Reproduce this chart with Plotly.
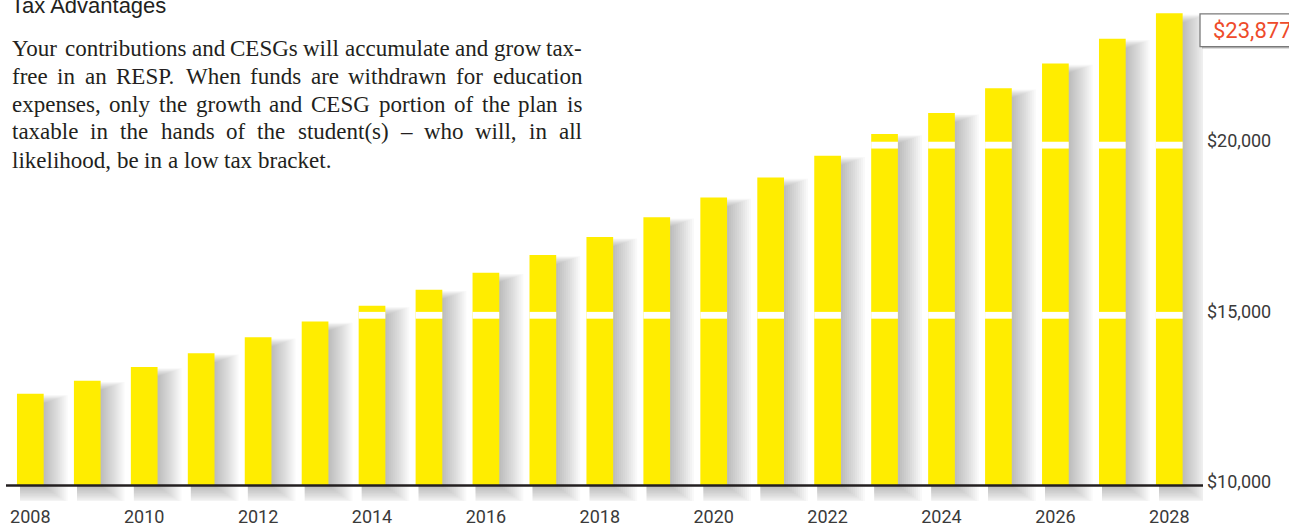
import plotly.graph_objects as go

# ---------------- data ----------------
years = list(range(2008, 2029))
values = [12691, 13079, 13478, 13886, 14353, 14819, 15277, 15752, 16248, 16773,
          17297, 17880, 18464, 19047, 19688, 20329, 20942, 21671, 22399, 23128, 23877]
y_ticks = [10000, 15000, 20000]
y_tick_labels = ["$10,000", "$15,000", "$20,000"]
x_ticks = list(range(2008, 2029, 2))
x_tick_labels = [str(y) for y in x_ticks]
final_label = "$23,877"
title_text = "Tax Advantages"
paragraph_lines = [
    "Your contributions and CESGs will accumulate and grow tax-",
    "free in an RESP. When funds are withdrawn for education",
    "expenses, only the growth and CESG portion of the plan is",
    "taxable in the hands of the student(s) \u2013 who will, in all",
    "likelihood, be in a low tax bracket.",
]

# ---------------- geometry ----------------
W, H = 1289, 527
ML, MR, MT, MB = 6, 86, 0, 22
PW, PH = W - ML - MR, H - MT - MB
base_val = 10000
px_per_unit_y = 0.0343           # pixels per dollar
baseline_px = 489.3
y_top = base_val + (baseline_px - MT) / px_per_unit_y
y_bot = base_val - (MT + PH - baseline_px) / px_per_unit_y
x_lo, x_hi = 2007.573, 2028.592
px_per_year = PW / (x_hi - x_lo)
ux = 1 / px_per_year              # years per pixel
uy = 1 / px_per_unit_y            # dollars per pixel
bar_w = 26.7 * ux


def pxx(x):
    return (x - ML) / PW


def pxy(y):
    return (MT + PH - y) / PH


YELLOW = "#FFED00"
TEXT = "#231f20"
TICK = "#3a3a3a"
SANS = "Roboto, Liberation Sans, Arial, sans-serif"
SERIF = "Liberation Serif, Times New Roman, serif"

fig = go.Figure()

# soft drop shadows, spreading to the right and below (layered translucent bars)
for s in range(0, 24, 2):
    left_px = 3
    right_px = 2 + s
    bases = [base_val - (2 + s * 0.7) * uy for _ in values]
    tops = [v - (9 - s * 0.35) * uy for v in values]
    fig.add_trace(go.Bar(
        x=years, y=[t - b for t, b in zip(tops, bases)], base=bases,
        width=bar_w - left_px * ux + right_px * ux,
        offset=-bar_w / 2 + left_px * ux,
        marker=dict(color="rgba(60,60,75,0.03)", line=dict(width=0)),
        hoverinfo="skip", showlegend=False))

# main bars
fig.add_trace(go.Bar(
    x=years, y=[v - base_val for v in values], base=base_val,
    width=bar_w, offset=-bar_w / 2,
    marker=dict(color=YELLOW, line=dict(width=0)),
    hoverinfo="x+y", showlegend=False))

# white bands at gridline levels across the bars
band = 200
for lvl in y_ticks[1:]:
    xs = [yr for yr, v in zip(years, values) if v > lvl + band / 2]
    fig.add_trace(go.Bar(
        x=xs, y=[band] * len(xs), base=lvl - band / 2,
        width=bar_w, offset=-bar_w / 2,
        marker=dict(color="white", line=dict(width=0)),
        hoverinfo="skip", showlegend=False))

shapes = [
    dict(type="line", xref="paper", yref="y", x0=0, x1=1, y0=base_val, y1=base_val,
         line=dict(color=TEXT, width=2.5), layer="above"),
    # label box shadow + box
    dict(type="rect", xref="paper", yref="paper",
         x0=pxx(1202), x1=pxx(1300), y0=pxy(49), y1=pxy(16),
         fillcolor="rgba(120,120,120,0.5)", line=dict(width=0), layer="above"),
    dict(type="rect", xref="paper", yref="paper",
         x0=pxx(1200), x1=pxx(1300), y0=pxy(47), y1=pxy(14),
         fillcolor="white", line=dict(color="#7a7a7a", width=1.3), layer="above"),
]

annotations = [
    dict(text=title_text, xref="paper", yref="paper", x=pxx(9), y=pxy(15),
         xanchor="left", yanchor="bottom", yshift=-5, showarrow=False,
         font=dict(family="Liberation Sans, Arial, sans-serif", size=22, color=TEXT)),
    dict(text=final_label, xref="paper", yref="paper", x=pxx(1211), y=pxy(30.5),
         xanchor="left", yanchor="middle", showarrow=False,
         font=dict(family=SANS, size=22, color="#EE4B2B")),
]

# justified serif paragraph (Times-metric advance widths, per 1000 em)
TW = {" ": 250, "!": 333, "(": 333, ")": 333, ",": 250, "-": 333, ".": 250, "\u2013": 500,
      "A": 722, "C": 667, "D": 722, "E": 611, "G": 722, "P": 556, "R": 667, "S": 556,
      "W": 944, "Y": 722,
      "a": 444, "b": 500, "c": 444, "d": 500, "e": 444, "f": 333, "g": 500, "h": 500,
      "i": 278, "k": 500, "l": 278, "m": 778, "n": 500, "o": 500, "p": 500, "r": 333,
      "s": 389, "t": 278, "u": 500, "v": 500, "w": 722, "x": 500, "y": 500}
FS = 23
X0, X1 = 10, 580
line_centers = [49, 77, 105, 133, 162]


def word_w(w):
    return sum(TW.get(c, 500) for c in w) / 1000 * FS


for i, (txt, yc) in enumerate(zip(paragraph_lines, line_centers)):
    words = txt.split(" ")
    widths = [word_w(w) for w in words]
    if i < len(paragraph_lines) - 1:
        gap = (X1 - X0 - sum(widths)) / (len(words) - 1)
    else:
        gap = TW[" "] / 1000 * FS
    x = X0
    for w, ww in zip(words, widths):
        annotations.append(dict(
            text=w, xref="paper", yref="paper", x=pxx(x), y=pxy(yc),
            xanchor="left", yanchor="middle", showarrow=False,
            font=dict(family=SERIF, size=FS, color=TEXT)))
        x += ww + gap

fig.update_layout(
    width=W, height=H,
    margin=dict(l=ML, r=MR, t=MT, b=MB, pad=0),
    paper_bgcolor="white", plot_bgcolor="white",
    barmode="overlay",
    showlegend=False,
    xaxis=dict(range=[x_lo, x_hi], tickvals=x_ticks, ticktext=x_tick_labels,
               showgrid=False, zeroline=False, showline=False, ticks="",
               ticklabelstandoff=3,
               tickfont=dict(family=SANS, size=18, color=TICK), fixedrange=True),
    yaxis=dict(range=[y_bot, y_top], side="right", tickvals=y_ticks, ticktext=y_tick_labels,
               showgrid=False, zeroline=False, showline=False, ticks="",
               ticklabelshift=-4, ticklabelstandoff=3,
               tickfont=dict(family=SANS, size=18, color=TICK), fixedrange=True),
    shapes=shapes,
    annotations=annotations,
)

fig.write_html("out.html")
